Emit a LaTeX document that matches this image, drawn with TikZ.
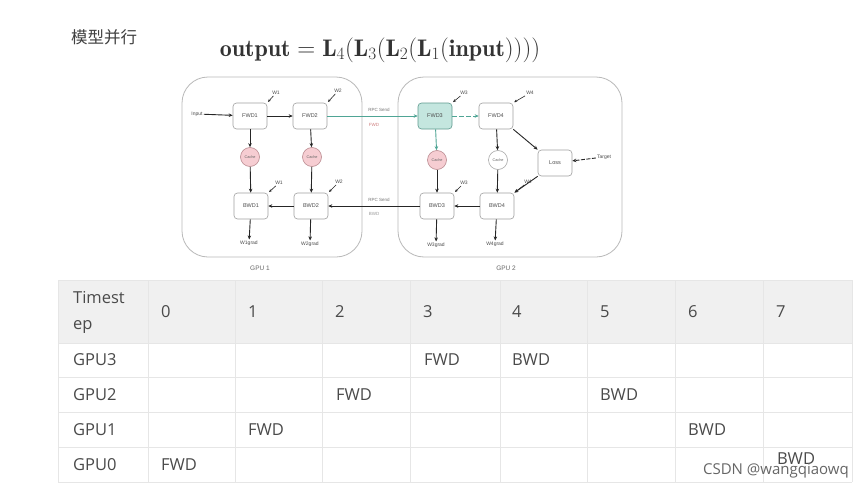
\documentclass[tikz,border=0pt]{standalone}
\usepackage{fontspec}
\usepackage{amsmath}
\newfontfamily\tabfont{Open Sans}
\newfontfamily\cjk{Noto Sans CJK SC}
\newfontfamily\smallsans{Liberation Sans}
\usetikzlibrary{arrows.meta}
\definecolor{tealc}{HTML}{4FA595}
\definecolor{tealfill}{HTML}{C4E6DF}
\definecolor{pinkfill}{HTML}{F6CDD2}
\definecolor{pinkdraw}{HTML}{B98A8F}
\definecolor{hdr}{HTML}{F0F0F0}
\definecolor{gridc}{HTML}{E6E6E6}
\definecolor{txt}{HTML}{4A4A4A}
\tikzset{
  gpubox/.style={draw=gray!55, line width=0.8pt, rounded corners=26pt, fill=white},
  box/.style={draw=gray!75, line width=0.6pt, rounded corners=3.5pt, minimum width=34pt, minimum height=26pt, font=\smallsans\fontsize{5.5}{6}\selectfont, text=black!70, fill=white},
  cache/.style={circle, draw=pinkdraw, line width=0.6pt, fill=pinkfill, minimum size=19pt, inner sep=0pt, font=\smallsans\fontsize{3.8}{4}\selectfont, text=black!60},
  wcache/.style={cache, fill=white, draw=gray!70},
  lab/.style={font=\smallsans\fontsize{5}{6}\selectfont, text=black!70, inner sep=1pt},
  arr/.style={-{Stealth[length=4pt,width=3.5pt]}, line width=0.9pt, black!85},
  tarr/.style={arr, tealc},
  warr/.style={-{Stealth[length=3pt,width=2.6pt]}, line width=0.6pt, black!85, shorten >=1pt},
  rpc/.style={font=\smallsans\fontsize{4.5}{5}\selectfont, text=black!55, inner sep=0.5pt},
  rpcred/.style={rpc, text=red!45!gray!70},
  tab/.style={font=\tabfont\fontsize{16.5}{19}\selectfont, text=txt, anchor=west, inner sep=0pt},
  grid/.style={draw=gridc, line width=0.8pt},
  gpulab/.style={font=\smallsans\fontsize{6.5}{7}\selectfont, text=black!60}
}
\begin{document}
\begin{tikzpicture}[x=1pt,y=-1pt]
\useasboundingbox (0,0) rectangle (863,490);
\fill[white] (0,0) rectangle (863,490);

% title and formula
\node[font=\cjk\fontsize{16.5}{18}\selectfont, text=black!75, anchor=west, inner sep=0pt] (title) at (71,37) {模型并行};
\node[font=\fontsize{24}{28}\selectfont, text=black!80, inner sep=0pt] (formula) at (380,50)
  {$\mathbf{output}=\mathbf{L}_4(\mathbf{L}_3(\mathbf{L}_2(\mathbf{L}_1(\mathbf{input}))))$};

% GPU containers
\node[gpubox, minimum width=180pt, minimum height=180pt] (gpu1) at (272,167) {};
\node[gpubox, minimum width=224pt, minimum height=180pt] (gpu2) at (510,167) {};
\node[gpulab] (gpu1l) at (260,268) {GPU 1};
\node[gpulab] (gpu2l) at (506,268) {GPU 2};

% GPU 1 nodes
\node[lab] (in) at (197,114) {Input};
\node[box] (f1) at (250,116) {FWD1};
\node[box] (f2) at (310,116) {FWD2};
\node[cache] (c1) at (250,157) {Cache};
\node[cache] (c2) at (312,157) {Cache};
\node[box] (b1) at (251,206) {BWD1};
\node[box] (b2) at (311,206) {BWD2};
\node[lab] (w1a) at (276,93) {W1};
\node[lab] (w2a) at (338,91) {W2};
\node[lab] (w1b) at (279,183) {W1};
\node[lab] (w2b) at (339,182) {W2};
\node[lab] (g1) at (249,243) {W1grad};
\node[lab] (g2) at (310,244) {W2grad};

% GPU 2 nodes
\node[box, fill=tealfill, draw=tealc!70!gray] (f3) at (435,116) {FWD3};
\node[box] (f4) at (496,116) {FWD4};
\node[cache] (c3) at (437,160) {Cache};
\node[wcache] (c4) at (498,160) {Cache};
\node[box] (loss) at (555,163) {Loss};
\node[lab] (tgt) at (604,157) {Target};
\node[box] (b3) at (437,206) {BWD3};
\node[box] (b4) at (497,206) {BWD4};
\node[lab] (w3a) at (464,93) {W3};
\node[lab] (w4a) at (530,93) {W4};
\node[lab] (w3b) at (464,183) {W3};
\node[lab] (w4b) at (528,182) {W4};
\node[lab] (g3) at (436,245) {W3grad};
\node[lab] (g4) at (495,244) {W4grad};

% RPC labels
\node[rpc] (r1) at (379,110) {RPC Send};
\node[rpcred] (r1b) at (374,125) {FWD};
\node[rpc] (r2) at (379,200) {RPC Send};
\node[rpc, text=black!40] (r2b) at (374,214) {BWD};

% connectors GPU 1
\draw[arr] (in) -- (f1);
\draw[arr] (f1) -- (f2);
\draw[arr] (f1) -- (c1);
\draw[arr] (c1) -- (b1);
\draw[arr] (f2) -- (c2);
\draw[arr] (c2) -- (b2);
\draw[arr] (b2) -- (b1);
\draw[arr] (b1) -- (g1);
\draw[arr] (b2) -- (g2);
\draw[warr] (w1a) -- (f1.north east);
\draw[warr] (w2a) -- (f2.north east);
\draw[warr] (w1b) -- (b1.north east);
\draw[warr] (w2b) -- (b2.north east);

% cross-GPU
\draw[tarr] (f2) -- (f3);
\draw[arr] (b3) -- (b2);

% connectors GPU 2
\draw[tarr, dash pattern=on 5pt off 2pt] (f3) -- (f4);
\draw[tarr] (f3) -- (c3);
\draw[arr] (c3) -- (b3);
\draw[arr] (f4) -- (c4);
\draw[arr] (c4) -- (b4);
\draw[arr] (f4.south east) -- (loss.north west);
\draw[arr] (loss.south west) -- (b4.north east);
\draw[arr, dash pattern=on 4pt off 1.5pt] (tgt) -- (loss);
\draw[arr] (b4) -- (b3);
\draw[arr] (b3) -- (g3);
\draw[arr] (b4) -- (g4);
\draw[warr] (w3a) -- (f3.north east);
\draw[warr] (w4a) -- (f4.north east);
\draw[warr] (w3b) -- (b3.north east);
\draw[warr] (w4b) -- (b4.north east);

% table
\fill[hdr] (58,280) rectangle (852,343);
\foreach \x in {58,148,235,322,410,500,587,675,763,852} \draw[grid] (\x,280) -- (\x,482);
\foreach \y in {280,343,377,412,447,482} \draw[grid] (58,\y) -- (852,\y);

\node[tab] (hts1) at (73,298) {Timest};
\node[tab] (hts2) at (73,327) {ep};
\node[tab] (h0) at (161,312) {0};
\node[tab] (h1) at (248,312) {1};
\node[tab] (h2) at (335,312) {2};
\node[tab] (h3) at (423,312) {3};
\node[tab] (h4) at (512,312) {4};
\node[tab] (h5) at (600,312) {5};
\node[tab] (h6) at (688,312) {6};
\node[tab] (h7) at (776,312) {7};

\node[tab] (gpu3) at (73,360) {GPU3};
\node[tab] (gpu2r) at (73,395) {GPU2};
\node[tab] (gpu1r) at (73,430) {GPU1};
\node[tab] (gpu0) at (73,465) {GPU0};

\node[tab] (t33) at (424,360) {FWD};
\node[tab] (t34) at (512,360) {BWD};
\node[tab] (t22) at (336,395) {FWD};
\node[tab] (t25) at (600,395) {BWD};
\node[tab] (t11) at (248,430) {FWD};
\node[tab] (t16) at (688,430) {BWD};
\node[tab] (t00) at (161,465) {FWD};
\node[tab] (t07) at (777,459) {BWD};

\node[font=\tabfont\fontsize{15}{17}\selectfont, text=black!60, anchor=east, inner sep=0pt] (wm) at (849,471) {CSDN @wangqiaowq};
\end{tikzpicture}
\end{document}
